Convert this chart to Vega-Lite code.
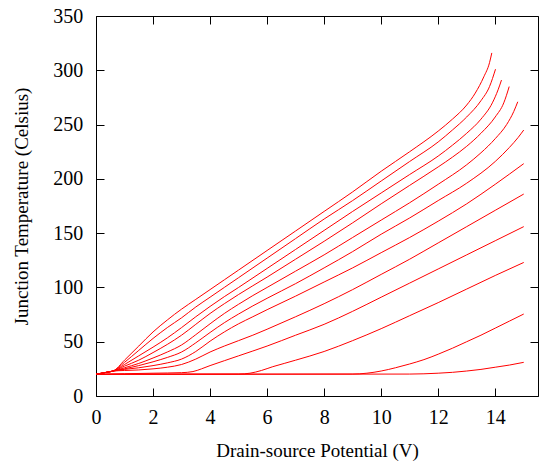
{
  "$schema": "https://vega.github.io/schema/vega-lite/v6.json",
  "width": 442,
  "height": 380,
  "autosize": {"type": "none"},
  "padding": {"left": 96, "top": 16, "right": 1, "bottom": 65},
  "background": "white",
  "config": {
    "view": {"stroke": "black", "strokeWidth": 1},
    "axis": {
      "domain": false,
      "grid": false,
      "ticks": true,
      "tickColor": "black",
      "tickWidth": 1,
      "tickSize": -8,
      "labelFont": "Liberation Serif",
      "labelFontSize": 20,
      "labelColor": "black",
      "labelFlush": false,
      "labelOverlap": false,
      "labelBound": false,
      "titleFont": "Liberation Serif",
      "titleFontSize": 19,
      "titleFontWeight": "normal",
      "titleColor": "black"
    }
  },
  "data": {
    "values": [
      {"c":1,"v":0,"t":20},{"c":1,"v":0.3,"t":21.5},{"c":1,"v":0.6,"t":23},{"c":1,"v":1,"t":33},{"c":1,"v":1.5,"t":46},{"c":1,"v":2,"t":59},{"c":1,"v":2.5,"t":70},{"c":1,"v":3,"t":80},{"c":1,"v":3.5,"t":89},{"c":1,"v":4,"t":98},{"c":1,"v":4.5,"t":107},{"c":1,"v":5,"t":116},{"c":1,"v":6,"t":134},{"c":1,"v":7,"t":152},{"c":1,"v":8,"t":170},{"c":1,"v":9,"t":188},{"c":1,"v":10,"t":207},{"c":1,"v":11,"t":225},{"c":1,"v":12,"t":244},{"c":1,"v":12.5,"t":255},{"c":1,"v":13,"t":268},{"c":1,"v":13.3,"t":279},{"c":1,"v":13.6,"t":294},{"c":1,"v":13.8,"t":307},{"c":1,"v":13.88,"t":316},
      {"c":2,"v":0,"t":20},{"c":2,"v":0.3,"t":21.5},{"c":2,"v":0.6,"t":23},{"c":2,"v":1,"t":31},{"c":2,"v":1.5,"t":42},{"c":2,"v":2,"t":53},{"c":2,"v":2.5,"t":63},{"c":2,"v":3,"t":72},{"c":2,"v":3.5,"t":82},{"c":2,"v":4,"t":91},{"c":2,"v":4.5,"t":100},{"c":2,"v":5,"t":109},{"c":2,"v":6,"t":127},{"c":2,"v":7,"t":145},{"c":2,"v":8,"t":163},{"c":2,"v":9,"t":180},{"c":2,"v":10,"t":198},{"c":2,"v":11,"t":216},{"c":2,"v":12,"t":234},{"c":2,"v":12.5,"t":245},{"c":2,"v":13,"t":257},{"c":2,"v":13.5,"t":272},{"c":2,"v":13.8,"t":285},{"c":2,"v":14.01,"t":301},
      {"c":3,"v":0,"t":20},{"c":3,"v":0.3,"t":21.5},{"c":3,"v":0.6,"t":23},{"c":3,"v":1,"t":29},{"c":3,"v":1.5,"t":37},{"c":3,"v":2,"t":45},{"c":3,"v":2.5,"t":53.5},{"c":3,"v":3,"t":63},{"c":3,"v":3.5,"t":73},{"c":3,"v":4,"t":82.5},{"c":3,"v":4.5,"t":91.5},{"c":3,"v":5,"t":100},{"c":3,"v":6,"t":117.5},{"c":3,"v":7,"t":135},{"c":3,"v":8,"t":152.5},{"c":3,"v":9,"t":170},{"c":3,"v":10,"t":187},{"c":3,"v":11,"t":204},{"c":3,"v":12,"t":221},{"c":3,"v":12.5,"t":231},{"c":3,"v":13,"t":242},{"c":3,"v":13.5,"t":255},{"c":3,"v":13.9,"t":270},{"c":3,"v":14.1,"t":282},{"c":3,"v":14.22,"t":291},
      {"c":4,"v":0,"t":20},{"c":4,"v":0.3,"t":21.5},{"c":4,"v":0.6,"t":23},{"c":4,"v":1,"t":27.5},{"c":4,"v":1.5,"t":33},{"c":4,"v":2,"t":40},{"c":4,"v":2.5,"t":47.5},{"c":4,"v":3,"t":56},{"c":4,"v":3.5,"t":66},{"c":4,"v":4,"t":76},{"c":4,"v":4.5,"t":85},{"c":4,"v":5,"t":93.5},{"c":4,"v":6,"t":109.5},{"c":4,"v":7,"t":126},{"c":4,"v":8,"t":142.5},{"c":4,"v":9,"t":159.5},{"c":4,"v":10,"t":177},{"c":4,"v":11,"t":194},{"c":4,"v":12,"t":211},{"c":4,"v":12.5,"t":220},{"c":4,"v":13,"t":230},{"c":4,"v":13.5,"t":242},{"c":4,"v":14,"t":257},{"c":4,"v":14.3,"t":270},{"c":4,"v":14.49,"t":285},
      {"c":5,"v":0,"t":20},{"c":5,"v":0.3,"t":21.5},{"c":5,"v":0.6,"t":23},{"c":5,"v":1,"t":26},{"c":5,"v":1.5,"t":30},{"c":5,"v":2,"t":35},{"c":5,"v":2.5,"t":40.5},{"c":5,"v":3,"t":47},{"c":5,"v":3.5,"t":56.5},{"c":5,"v":4,"t":66.5},{"c":5,"v":4.5,"t":76},{"c":5,"v":5,"t":84.5},{"c":5,"v":5.5,"t":92.5},{"c":5,"v":6,"t":100},{"c":5,"v":7,"t":115},{"c":5,"v":8,"t":130},{"c":5,"v":9,"t":146},{"c":5,"v":10,"t":162},{"c":5,"v":11,"t":178},{"c":5,"v":12,"t":195},{"c":5,"v":13,"t":213},{"c":5,"v":13.5,"t":224},{"c":5,"v":14,"t":237},{"c":5,"v":14.4,"t":250},{"c":5,"v":14.65,"t":262},{"c":5,"v":14.79,"t":271},
      {"c":6,"v":0,"t":20},{"c":6,"v":0.3,"t":21.5},{"c":6,"v":0.6,"t":23},{"c":6,"v":1,"t":25},{"c":6,"v":1.5,"t":28},{"c":6,"v":2,"t":31.5},{"c":6,"v":2.5,"t":35.5},{"c":6,"v":3,"t":40.5},{"c":6,"v":3.5,"t":49},{"c":6,"v":4,"t":58.5},{"c":6,"v":4.5,"t":67.5},{"c":6,"v":5,"t":75.5},{"c":6,"v":5.5,"t":83},{"c":6,"v":6,"t":90},{"c":6,"v":7,"t":103.5},{"c":6,"v":8,"t":118},{"c":6,"v":9,"t":133},{"c":6,"v":10,"t":149},{"c":6,"v":11,"t":164},{"c":6,"v":12,"t":180},{"c":6,"v":13,"t":196},{"c":6,"v":14,"t":216},{"c":6,"v":14.5,"t":229},{"c":6,"v":14.8,"t":238},{"c":6,"v":15,"t":245},
      {"c":7,"v":0,"t":20},{"c":7,"v":0.3,"t":21.5},{"c":7,"v":0.6,"t":23},{"c":7,"v":1,"t":24.5},{"c":7,"v":1.5,"t":26},{"c":7,"v":2,"t":28},{"c":7,"v":2.5,"t":30.5},{"c":7,"v":3,"t":34},{"c":7,"v":3.5,"t":41},{"c":7,"v":4,"t":50.5},{"c":7,"v":4.5,"t":59},{"c":7,"v":5,"t":66.5},{"c":7,"v":5.5,"t":73},{"c":7,"v":6,"t":79.5},{"c":7,"v":7,"t":92},{"c":7,"v":8,"t":105},{"c":7,"v":9,"t":118},{"c":7,"v":10,"t":132},{"c":7,"v":11,"t":146},{"c":7,"v":12,"t":161},{"c":7,"v":13,"t":177},{"c":7,"v":14,"t":195},{"c":7,"v":15,"t":214},
      {"c":8,"v":0,"t":20},{"c":8,"v":0.3,"t":21.5},{"c":8,"v":0.6,"t":23},{"c":8,"v":1,"t":23.5},{"c":8,"v":1.5,"t":24},{"c":8,"v":2,"t":25},{"c":8,"v":2.5,"t":26.5},{"c":8,"v":3,"t":29},{"c":8,"v":3.5,"t":34},{"c":8,"v":4,"t":40.5},{"c":8,"v":4.5,"t":46},{"c":8,"v":5,"t":51},{"c":8,"v":5.5,"t":56},{"c":8,"v":6,"t":61.5},{"c":8,"v":7,"t":73},{"c":8,"v":8,"t":85},{"c":8,"v":9,"t":98},{"c":8,"v":10,"t":112},{"c":8,"v":11,"t":126},{"c":8,"v":12,"t":141},{"c":8,"v":13,"t":156},{"c":8,"v":14,"t":171},{"c":8,"v":15,"t":186},
      {"c":9,"v":0,"t":20},{"c":9,"v":1,"t":20.5},{"c":9,"v":2,"t":21},{"c":9,"v":3,"t":21.5},{"c":9,"v":3.4,"t":22.5},{"c":9,"v":3.7,"t":25},{"c":9,"v":4,"t":28},{"c":9,"v":4.5,"t":32.5},{"c":9,"v":5,"t":37},{"c":9,"v":6,"t":46},{"c":9,"v":7,"t":56},{"c":9,"v":8,"t":66},{"c":9,"v":9,"t":78},{"c":9,"v":10,"t":91},{"c":9,"v":11,"t":104},{"c":9,"v":12,"t":117},{"c":9,"v":13,"t":130},{"c":9,"v":14,"t":143},{"c":9,"v":15,"t":156},
      {"c":10,"v":0,"t":20},{"c":10,"v":5,"t":20.2},{"c":10,"v":5.4,"t":21},{"c":10,"v":5.8,"t":23.5},{"c":10,"v":6.2,"t":27},{"c":10,"v":6.6,"t":30},{"c":10,"v":7,"t":33},{"c":10,"v":8,"t":41},{"c":10,"v":9,"t":51},{"c":10,"v":10,"t":62},{"c":10,"v":11,"t":74},{"c":10,"v":12,"t":86},{"c":10,"v":13,"t":98.5},{"c":10,"v":14,"t":111},{"c":10,"v":15,"t":123},
      {"c":11,"v":0,"t":20},{"c":11,"v":9,"t":20.2},{"c":11,"v":9.5,"t":21},{"c":11,"v":10,"t":23},{"c":11,"v":10.5,"t":26},{"c":11,"v":11,"t":29.5},{"c":11,"v":11.5,"t":33.5},{"c":11,"v":12,"t":38.5},{"c":11,"v":12.5,"t":44},{"c":11,"v":13,"t":50},{"c":11,"v":13.5,"t":56},{"c":11,"v":14,"t":62.5},{"c":11,"v":14.5,"t":69},{"c":11,"v":15,"t":75.5},
      {"c":12,"v":0,"t":20},{"c":12,"v":11,"t":20.2},{"c":12,"v":12,"t":21},{"c":12,"v":12.5,"t":21.8},{"c":12,"v":13,"t":23},{"c":12,"v":13.5,"t":24.5},{"c":12,"v":14,"t":26.5},{"c":12,"v":14.5,"t":28.5},{"c":12,"v":15,"t":31}
    ]
  },
  "layer": [
    {
      "mark": {"type": "line", "color": "#ff0000", "strokeWidth": 1, "interpolate": "monotone"},
      "encoding": {
        "x": {
          "field": "v", "type": "quantitative",
          "scale": {"domain": [0, 15.5], "nice": false, "zero": false},
          "axis": {"orient": "bottom", "values": [0, 2, 4, 6, 8, 10, 12, 14], "labelPadding": 19.5, "title": "Drain-source Potential (V)", "titleY": 60, "titleBaseline": "alphabetic"}
        },
        "y": {
          "field": "t", "type": "quantitative",
          "scale": {"domain": [0, 350], "nice": false, "zero": false},
          "axis": {"orient": "left", "values": [0, 50, 100, 150, 200, 250, 300, 350], "labelPadding": 21.3, "title": "Junction Temperature (Celsius)", "titleX": -69, "titleBaseline": "alphabetic"}
        },
        "detail": {"field": "c", "type": "nominal"}
      }
    },
    {
      "mark": {"type": "line", "strokeOpacity": 0},
      "encoding": {
        "x": {
          "field": "v", "type": "quantitative",
          "axis": {"orient": "top", "values": [0, 2, 4, 6, 8, 10, 12, 14], "labels": false, "title": null}
        },
        "y": {
          "field": "t", "type": "quantitative",
          "axis": {"orient": "right", "values": [0, 50, 100, 150, 200, 250, 300, 350], "labels": false, "title": null}
        },
        "detail": {"field": "c", "type": "nominal"}
      }
    }
  ],
  "resolve": {"axis": {"x": "independent", "y": "independent"}}
}
